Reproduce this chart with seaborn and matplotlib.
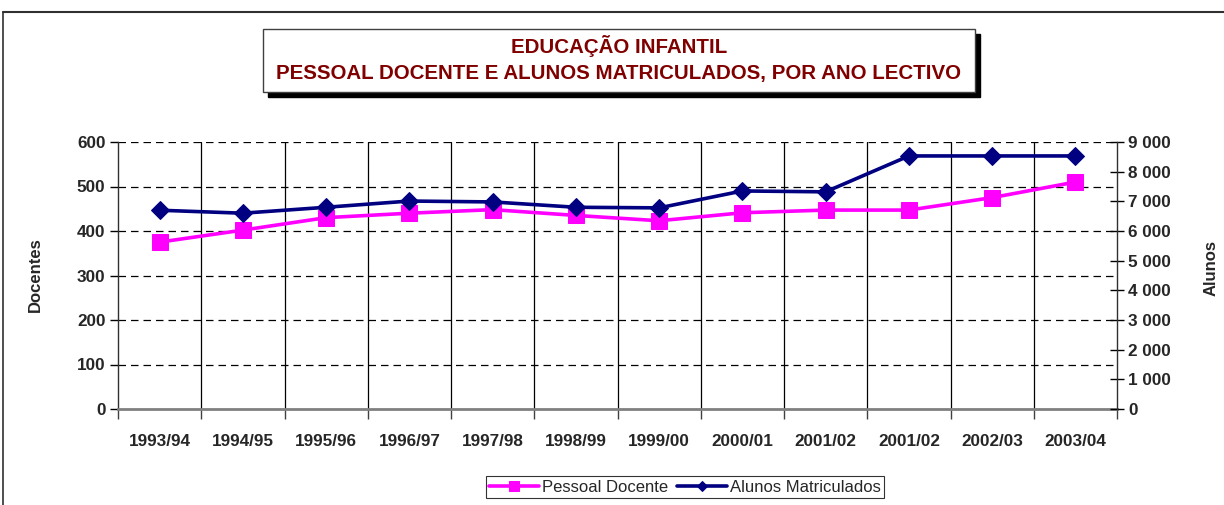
import numpy as np
import pandas as pd
import seaborn as sns
import matplotlib
matplotlib.use("Agg")
import matplotlib.pyplot as plt
from matplotlib.patches import Rectangle
from matplotlib.lines import Line2D
from matplotlib.ticker import FuncFormatter, MultipleLocator

# ---- data ----
anos = ["1993/94", "1994/95", "1995/96", "1996/97", "1997/98", "1998/99",
        "1999/00", "2000/01", "2001/02", "2001/02", "2002/03", "2003/04"]
pessoal_docente = [375, 402, 430, 440, 448, 435, 423, 441, 447, 447, 475, 510]
alunos_matriculados = [6700, 6600, 6800, 7010, 6980, 6800, 6780, 7350, 7320, 8530, 8530, 8530]
docentes_ticks = [0, 100, 200, 300, 400, 500, 600]
alunos_ticks = [0, 1000, 2000, 3000, 4000, 5000, 6000, 7000, 8000, 9000]

sns.set_theme(style="white")
plt.rcParams['font.family'] = ['Liberation Sans', 'DejaVu Sans']

W, H = 1224, 505
fig = plt.figure(figsize=(W / 100, H / 100), dpi=100)
ax = fig.add_axes([118 / W, 1 - 409 / H, (1117 - 118) / W, (409 - 142) / H])
ax2 = ax.twinx()

pos = np.arange(len(anos))
df = pd.DataFrame({"pos": pos, "doc": pessoal_docente, "alu": alunos_matriculados})

sns.lineplot(data=df, x="pos", y="doc", ax=ax, color="#FF00FF", linewidth=2.6,
             marker="s", markersize=11, markeredgecolor="#FF00FF", label="Pessoal Docente",
             legend=False)
sns.lineplot(data=df, x="pos", y="alu", ax=ax2, color="#000080", linewidth=2.6,
             marker="D", markersize=9, markeredgecolor="#000080", label="Alunos Matriculados",
             legend=False)

# axes ranges
ax.set_xlim(-0.5, len(anos) - 0.5)
ax.set_ylim(docentes_ticks[0], docentes_ticks[-1])
ax2.set_ylim(alunos_ticks[0], alunos_ticks[-1])
ax.set_yticks(docentes_ticks)
ax2.set_yticks(alunos_ticks)
ax2.yaxis.set_major_formatter(FuncFormatter(lambda v, p: f"{int(v):,}".replace(",", " ")))

# category ticks: labels at centres, tick marks/gridlines at boundaries
ax.set_xticks(pos)
ax.set_xticklabels(anos)
ax.set_xticks(np.arange(-0.5, len(anos), 1.0), minor=True)
ax.tick_params(axis="x", which="major", length=0, pad=18, labelsize=12.3)
ax.tick_params(axis="x", which="minor", length=7, width=1, color="#404040", direction="out", bottom=True)
for lbl in ax.get_xticklabels():
    lbl.set_fontweight("bold")

ax.tick_params(axis="y", length=6, width=1, color="black", direction="out", labelsize=12.3, pad=3, left=True)
for lbl in ax.get_yticklabels():
    lbl.set_fontweight("bold")
ax2.tick_params(axis="y", length=10, width=1, color="black", direction="inout", labelsize=12.3, pad=3, right=True)
for lbl in ax2.get_yticklabels():
    lbl.set_fontweight("bold")

# grid
ax.grid(False)
ax2.grid(False)
for t in docentes_ticks[1:]:
    ax.axhline(t, color="black", linestyle=(0, (6, 4)), linewidth=0.9, zorder=0)
for b in np.arange(0.5, len(anos) - 1, 1.0):
    ax.axvline(b, color="black", linewidth=0.9, zorder=0)

# spines
for s in ["top"]:
    ax.spines[s].set_visible(False)
    ax2.spines[s].set_visible(False)
ax.spines["right"].set_visible(False)
ax2.spines["left"].set_visible(False)
ax2.spines["bottom"].set_visible(False)
ax.spines["left"].set_color("#303030")
ax.spines["left"].set_linewidth(1.0)
ax.spines["bottom"].set_color("#808080")
ax.spines["bottom"].set_linewidth(2.0)
ax2.spines["right"].set_color("#303030")
ax2.spines["right"].set_linewidth(1.0)

ax.set_xlabel("")
ax.set_ylabel("")
ax2.set_ylabel("")
fig.text(35 / W, 1 - 275 / H, "Docentes", rotation=90, ha="center", va="center",
         fontsize=12, fontweight="bold")
fig.text(1211 / W, 1 - 268 / H, "Alunos", rotation=90, ha="center", va="center",
         fontsize=12, fontweight="bold")

# legend
h1, l1 = ax.get_legend_handles_labels()
h2, l2 = ax2.get_legend_handles_labels()
leg = fig.legend(h1 + h2, l1 + l2, loc="center", bbox_to_anchor=(685 / W, 1 - 487 / H),
                 ncol=2, frameon=True, fancybox=False, fontsize=12, handlelength=3,
                 handletextpad=0.2, columnspacing=0.5, borderpad=0.2, markerscale=0.6)
leg.get_frame().set_edgecolor("black")
leg.get_frame().set_linewidth(0.8)

# title box with shadow
bx0, bx1, by0, by1 = 263, 975, 29, 92
fig.patches.append(Rectangle(((bx0 + 5) / W, 1 - (by1 + 5) / H), (bx1 - bx0) / W, (by1 - by0) / H,
                             transform=fig.transFigure, facecolor="black", edgecolor="black", zorder=1))
fig.patches.append(Rectangle((bx0 / W, 1 - by1 / H), (bx1 - bx0) / W, (by1 - by0) / H,
                             transform=fig.transFigure, facecolor="white", edgecolor="#404040",
                             linewidth=1.0, zorder=2))
fig.text((bx0 + bx1) / 2 / W, 1 - 46 / H, "EDUCAÇÃO INFANTIL", ha="center", va="center",
         fontsize=14.8, fontweight="bold", color="#800000", zorder=3)
fig.text((bx0 + bx1) / 2 / W, 1 - 74 / H, "PESSOAL DOCENTE E ALUNOS MATRICULADOS, POR ANO LECTIVO",
         ha="center", va="center", fontsize=14.8, fontweight="bold", color="#800000", zorder=3)

# outer chart border
fig.add_artist(Line2D([3 / W, 1], [1 - 12 / H, 1 - 12 / H], transform=fig.transFigure,
                      color="#303030", linewidth=1.5))
fig.add_artist(Line2D([3 / W, 3 / W], [0, 1 - 12 / H], transform=fig.transFigure,
                      color="#303030", linewidth=1.2))

fig.savefig("out.png", dpi=100)
